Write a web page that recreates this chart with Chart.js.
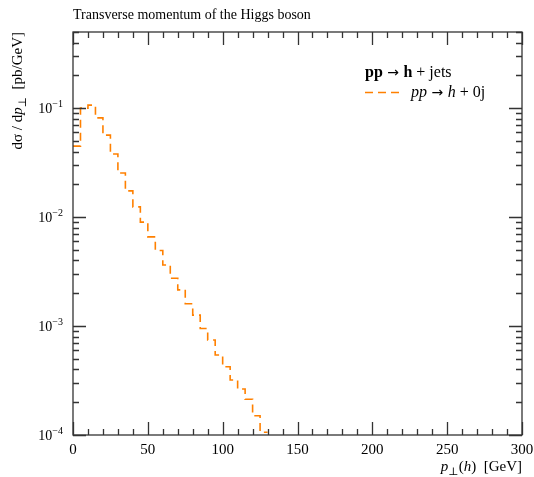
<!DOCTYPE html>
<html>
<head>
<meta charset="utf-8">
<script src="https://cdn.jsdelivr.net/npm/chart.js@4.4.0/dist/chart.umd.min.js"></script>
<style>
  html, body { margin: 0; padding: 0; background: #fff; }
  canvas { display: block; }
</style>
</head>
<body>
<canvas id="higgsChart" width="534" height="477"></canvas>
<script>
// Histogram data: bin edges in GeV, dσ/dp⊥ in pb/GeV per bin
const binEdges = [0, 5, 10, 15, 20, 25, 30, 35, 40, 45, 50, 55, 60, 65, 70, 75, 80, 85, 90, 95, 100, 105, 110, 115, 120, 125, 130];
const xsec = [0.0448, 0.100, 0.1066, 0.0815, 0.0565, 0.0379, 0.0254, 0.0174, 0.0124, 0.0090,
              0.00659, 0.00494, 0.00363, 0.00275, 0.00215, 0.00160, 0.00126, 0.00095, 0.000744, 0.000542,
              0.000423, 0.000320, 0.000264, 0.000213, 0.000150, 0.000106];
const xTicks = [0, 50, 100, 150, 200, 250, 300];
const yDecades = [-4, -3, -2, -1];
const seriesLabel = '0j';

const FONT = '"Liberation Serif", "DejaVu Serif", serif';
const ORANGE = '#ff8000';

// step points: each bin edge gets the value of the bin that starts there
const points = binEdges.map((e, i) => ({ x: e, y: xsec[Math.min(i, xsec.length - 1)] }));

// write a run of text pieces, returns x after the last one
function setFont(ctx, p) {
    const fam = p.fam || FONT;
    ctx.font = (p.style || '') + ' ' + (p.size || 15) + 'px ' + fam;
}
function writeParts(ctx, parts, x, y) {
    parts.forEach(p => {
        setFont(ctx, p);
        const dy = p.sub ? 4 : (p.sup ? -6 : 0);
        ctx.fillText(p.t, x, y + dy);
        x += ctx.measureText(p.t).width;
    });
    return x;
}
function partsWidth(ctx, parts) {
    let w = 0;
    parts.forEach(p => {
        setFont(ctx, p);
        w += ctx.measureText(p.t).width;
    });
    return w;
}
const ARROW = { t: ' \u2192 ', fam: '"DejaVu Sans", sans-serif', size: 14 };

// frame, inward ticks, labels, legend
const framePlugin = {
    id: 'frame',
    afterDraw(chart) {
        const ctx = chart.ctx;
        const area = chart.chartArea;
        const xs = chart.scales.x, ys = chart.scales.y;
        ctx.save();
        ctx.strokeStyle = '#333';
        ctx.fillStyle = '#000';
        ctx.lineWidth = 1.3;
        ctx.strokeRect(area.left, area.top, area.right - area.left, area.bottom - area.top);

        ctx.beginPath();
        // x ticks, minor every 10
        for (let v = 0; v <= 300; v += 10) {
            const px = Math.round(xs.getPixelForValue(v)) + 0.5;
            const len = v % 50 === 0 ? 13 : 6;
            ctx.moveTo(px, area.bottom); ctx.lineTo(px, area.bottom - len);
            ctx.moveTo(px, area.top); ctx.lineTo(px, area.top + len);
        }
        // y ticks, log
        for (let d = -4; d <= 0; d++) {
            for (let m = 1; m <= 9; m++) {
                const v = m * Math.pow(10, d);
                if (v < ys.min * 0.999 || v > ys.max * 1.001) continue;
                const py = Math.round(ys.getPixelForValue(v)) + 0.5;
                const len = m === 1 ? 13 : 6;
                ctx.moveTo(area.left, py); ctx.lineTo(area.left + len, py);
                ctx.moveTo(area.right, py); ctx.lineTo(area.right - len, py);
            }
        }
        ctx.stroke();

        // x tick labels
        ctx.textBaseline = 'alphabetic';
        ctx.textAlign = 'center';
        ctx.font = '15px ' + FONT;
        xTicks.forEach(v => ctx.fillText(String(v), xs.getPixelForValue(v), area.bottom + 19));

        // y tick labels 10^d
        ctx.textAlign = 'left';
        yDecades.forEach(d => {
            const py = ys.getPixelForValue(Math.pow(10, d));
            const parts = [{ t: '10', size: 14 }, { t: '\u2212' + Math.abs(d), size: 10, sup: true }];
            const w = partsWidth(ctx, parts);
            writeParts(ctx, parts, area.left - 10 - w, py + 5);
        });

        // title
        ctx.font = '14px ' + FONT;
        ctx.fillText('Transverse momentum of the Higgs boson', area.left, 19);

        // x axis title, right aligned
        const xt = [{ t: 'p', style: 'italic' }, { t: '\u22a5', size: 11, sub: true }, { t: '(' }, { t: 'h', style: 'italic' }, { t: ')  [GeV]' }];
        writeParts(ctx, xt, area.right - partsWidth(ctx, xt), 471);

        // y axis title, rotated, right aligned at top
        const yt = [{ t: 'd\u03c3 / d' }, { t: 'p', style: 'italic' }, { t: '\u22a5', size: 11, sub: true }, { t: '  [pb/GeV]' }];
        ctx.save();
        ctx.translate(22, area.top);
        ctx.rotate(-Math.PI / 2);
        writeParts(ctx, yt, -partsWidth(ctx, yt), 0);
        ctx.restore();

        // legend
        const lx = 365;
        writeParts(ctx, [{ t: 'pp', style: 'bold', size: 16 }, ARROW, { t: 'h', style: 'bold', size: 16 }, { t: ' + jets', size: 16 }], lx, 77);
        ctx.strokeStyle = ORANGE;
        ctx.lineWidth = 1.6;
        ctx.setLineDash([8, 5]);
        ctx.beginPath();
        ctx.moveTo(lx, 92.5); ctx.lineTo(lx + 36, 92.5);
        ctx.stroke();
        ctx.setLineDash([]);
        writeParts(ctx, [{ t: 'pp', style: 'italic', size: 16 }, ARROW, { t: 'h', style: 'italic', size: 16 }, { t: ' + ' + seriesLabel, size: 16 }], lx + 46, 97);
        ctx.restore();
    }
};

new Chart(document.getElementById('higgsChart').getContext('2d'), {
    type: 'line',
    data: {
        datasets: [{
            label: 'pp -> h + 0j',
            data: points,
            borderColor: ORANGE,
            borderWidth: 1.6,
            borderDash: [8, 5],
            stepped: true,
            pointRadius: 0,
            fill: false
        }]
    },
    options: {
        responsive: false,
        animation: false,
        devicePixelRatio: 1,
        layout: { padding: { left: 73, top: 32, right: 12, bottom: 42 } },
        scales: {
            x: { type: 'linear', min: 0, max: 300, display: false },
            y: { type: 'logarithmic', min: 1e-4, max: 0.5, display: false }
        },
        plugins: { legend: { display: false }, tooltip: { enabled: false } }
    },
    plugins: [framePlugin]
});
</script>
</body>
</html>
